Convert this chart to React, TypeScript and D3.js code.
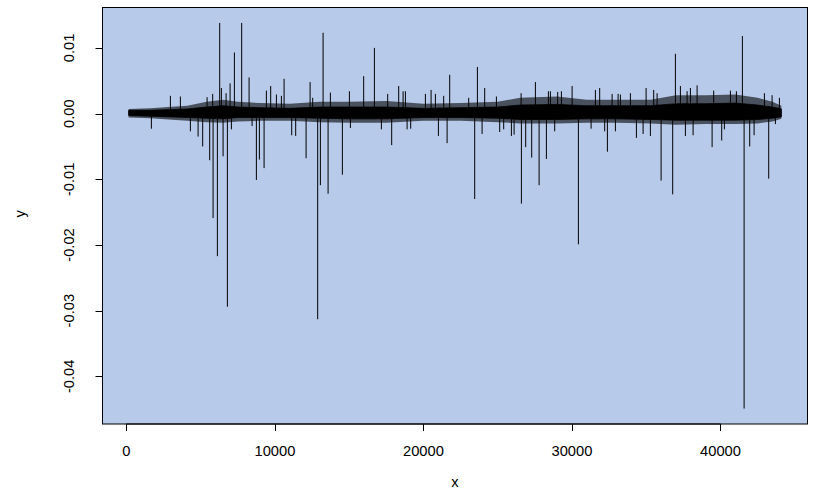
import React from 'react';
import * as d3 from 'd3';

// Envelope of the dense noise band: x, outer (fuzzy) and inner (solid) limits
const bandX = [150, 1600, 2800, 4100, 5400, 6500, 7500, 9000, 11000, 13000, 15000, 17500, 20000, 22500, 25000, 26500, 29000, 31000, 33000, 35300, 37000, 39000, 41000, 42500, 43500, 44100];
const bandUpper = [0.0007, 0.0008, 0.0010, 0.0012, 0.0018, 0.0021, 0.0018, 0.0016, 0.0015, 0.0018, 0.0018, 0.0019, 0.0015, 0.0016, 0.0018, 0.0024, 0.0026, 0.0021, 0.0021, 0.0021, 0.0028, 0.0028, 0.0029, 0.0024, 0.0018, 0.0012];
const bandLower = [-0.0006, -0.0007, -0.0009, -0.0011, -0.0013, -0.0014, -0.0012, -0.0011, -0.0011, -0.0013, -0.0014, -0.0014, -0.0011, -0.0011, -0.0013, -0.0015, -0.0015, -0.0014, -0.0014, -0.0015, -0.0017, -0.0016, -0.0016, -0.0015, -0.0012, -0.0008];
const innerUpper = [0.0005, 0.0005, 0.0006, 0.0007, 0.0010, 0.0012, 0.0010, 0.0009, 0.0008, 0.0010, 0.0010, 0.0010, 0.0008, 0.0009, 0.0010, 0.0013, 0.0014, 0.0012, 0.0012, 0.0012, 0.0015, 0.0015, 0.0016, 0.0013, 0.0010, 0.0007];
const innerLower = [-0.0003, -0.0004, -0.0005, -0.0006, -0.0007, -0.0008, -0.0006, -0.0006, -0.0006, -0.0007, -0.0008, -0.0008, -0.0006, -0.0006, -0.0007, -0.0009, -0.0009, -0.0008, -0.0008, -0.0009, -0.0010, -0.0010, -0.0010, -0.0009, -0.0007, -0.0005];

// Excursions beyond the band (x, y)
const spikeX = [1683, 2963, 3636, 4309, 4828, 5137, 5434, 5609, 5811, 5838, 6127, 6282, 6396, 6511, 6713, 6800, 6982, 7070, 7272, 7763, 8261, 8463, 8753, 8955, 9271, 9426, 9716, 10100, 10436, 10618, 11130, 11399, 12099, 12369, 12544, 12880, 13062, 13244, 13580, 13735, 14543, 15015, 15082, 15977, 16698, 17169, 17594, 17863, 18334, 18630, 18785, 18900, 19142, 20132, 20515, 20805, 21007, 21364, 21593, 21768, 23047, 23451, 23633, 23949, 24124, 24912, 25134, 25404, 25922, 26104, 26575, 26595, 26885, 27289, 27538, 27787, 28279, 28413, 28548, 28837, 29039, 29289, 30009, 30433, 31288, 31578, 31867, 32204, 32386, 32702, 32924, 33106, 33261, 33934, 34338, 34789, 34991, 35280, 35503, 35732, 36001, 36782, 36964, 37301, 37637, 37752, 37974, 38156, 38425, 39435, 39543, 40082, 40263, 40667, 41071, 41475, 41590, 41967, 42263, 42957, 43246, 43475, 43697, 43966];
const spikeY = [-0.0023, 0.0027, 0.0026, -0.0027, -0.0035, -0.0050, 0.0025, -0.0071, 0.0030, -0.0159, -0.0217, 0.0138, 0.0039, -0.0065, 0.0031, -0.0294, 0.0046, -0.0024, 0.0093, 0.0138, 0.0055, -0.0019, -0.0101, -0.0070, -0.0083, 0.0035, 0.0042, 0.0029, 0.0027, 0.0053, -0.0033, -0.0034, -0.0068, 0.0048, 0.0024, -0.0313, -0.0109, 0.0123, -0.0122, 0.0032, -0.0093, 0.0034, -0.0022, 0.0057, 0.0100, -0.0024, 0.0030, -0.0048, 0.0042, 0.0034, 0.0034, -0.0024, -0.0023, 0.0030, 0.0036, 0.0030, -0.0034, 0.0027, -0.0045, 0.0059, 0.0024, -0.0130, 0.0071, -0.0031, 0.0039, 0.0026, -0.0028, -0.0024, -0.0034, -0.0032, 0.0031, -0.0137, -0.0051, -0.0067, 0.0048, -0.0109, -0.0069, 0.0034, 0.0034, -0.0027, 0.0033, 0.0034, 0.0042, -0.0199, -0.0023, 0.0036, 0.0039, -0.0027, -0.0058, 0.0030, -0.0027, 0.0030, 0.0029, 0.0031, -0.0037, -0.0031, 0.0039, -0.0034, 0.0036, 0.0031, -0.0102, -0.0123, 0.0091, 0.0042, -0.0034, 0.0034, 0.0039, -0.0033, 0.0043, -0.0051, 0.0035, -0.0041, -0.0024, 0.0035, 0.0034, 0.0118, -0.0449, -0.0050, -0.0033, 0.0031, -0.0099, 0.0028, -0.0016, 0.0024];

const xTicks = [0, 10000, 20000, 30000, 40000];
const yTicks = [0.01, 0.0, -0.01, -0.02, -0.03, -0.04];
const yTickLabels = ['0.01', '0.00', '-0.01', '-0.02', '-0.03', '-0.04'];

type B = { x: number; hi: number; lo: number };

export default function App() {
  const W = 830, H = 502;
  const left = 102.5, right = 807.5, top = 7.5, bottom = 424;
  const font = 'Liberation Sans, Arial, Helvetica, sans-serif';
  const fs = 14.7;

  const allX = [...bandX, ...spikeX];
  const allY = [...bandUpper, ...bandLower, ...spikeY];
  const xmin = d3.min(allX)!, xmax = d3.max(allX)!;
  const ymin = d3.min(allY)!, ymax = d3.max(allY)!;
  const xs = d3.scaleLinear()
    .domain([xmin - 0.04 * (xmax - xmin), xmax + 0.04 * (xmax - xmin)])
    .range([left, right]);
  const ys = d3.scaleLinear()
    .domain([ymin - 0.04 * (ymax - ymin), ymax + 0.04 * (ymax - ymin)])
    .range([bottom, top]);

  const outer: B[] = bandX.map((x, i) => ({ x, hi: bandUpper[i], lo: bandLower[i] }));
  const inner: B[] = bandX.map((x, i) => ({ x, hi: innerUpper[i], lo: innerLower[i] }));
  const areaGen = d3.area<B>()
    .x(d => xs(d.x))
    .y0(d => ys(d.lo))
    .y1(d => ys(d.hi));

  const spikes = spikeX.map((x, i) => ({ x, y: spikeY[i] }));

  return (
    <svg width={W} height={H} style={{ position: 'absolute', left: 0, top: 0, background: '#fff' }}>
      <rect x={left} y={top} width={right - left} height={bottom - top} fill="#b8caea" />
      <path d={areaGen(outer) || ''} fill="#000" fillOpacity={0.6} />
      <path d={areaGen(inner) || ''} fill="#000" stroke="#000" strokeWidth={0.8} />
      {spikes.map((s, i) => (
        <line key={i} x1={xs(s.x)} x2={xs(s.x)} y1={ys(0)} y2={ys(s.y)} stroke="#000" strokeWidth={1} />
      ))}
      <rect x={left} y={top} width={right - left} height={bottom - top} fill="none" stroke="#000" strokeWidth={1} />
      {/* x axis */}
      <line x1={xs(xTicks[0])} x2={xs(xTicks[xTicks.length - 1])} y1={bottom} y2={bottom} stroke="#000" />
      {xTicks.map(t => (
        <g key={t}>
          <line x1={Math.round(xs(t)) + 0.5} x2={Math.round(xs(t)) + 0.5} y1={bottom} y2={bottom + 7} stroke="#000" />
          <text x={xs(t)} y={456} textAnchor="middle" fontFamily={font} fontSize={fs}>{t}</text>
        </g>
      ))}
      {/* y axis */}
      <line x1={left} x2={left} y1={ys(yTicks[0])} y2={ys(yTicks[yTicks.length - 1])} stroke="#000" />
      {yTicks.map((t, i) => (
        <g key={t}>
          <line x1={left} x2={left - 7} y1={Math.round(ys(t)) + 0.5} y2={Math.round(ys(t)) + 0.5} stroke="#000" />
          <text transform={`translate(73.5,${ys(t)}) rotate(-90)`} textAnchor="middle" fontFamily={font} fontSize={fs}>{yTickLabels[i]}</text>
        </g>
      ))}
      <text x={(left + right) / 2} y={487} textAnchor="middle" fontFamily={font} fontSize={fs}>x</text>
      <text transform={`translate(25,${(top + bottom) / 2 - 2}) rotate(-90)`} textAnchor="middle" fontFamily={font} fontSize={fs}>y</text>
    </svg>
  );
}
